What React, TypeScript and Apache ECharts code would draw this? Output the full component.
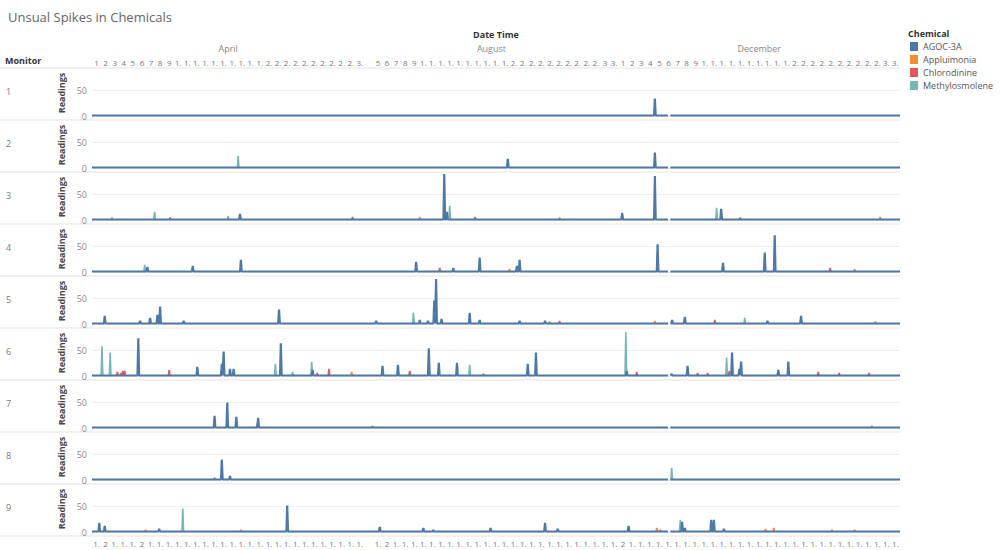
import React, { useEffect, useRef } from 'react';
import * as echarts from 'echarts';

const TITLE = 'Unsual Spikes in Chemicals';
const CHEMICALS = ['AGOC-3A', 'Appluimonia', 'Chlorodinine', 'Methylosmolene'];
const CHEM_COLORS = ['#4e79a7', '#f28e2b', '#e15759', '#76b7b2'];
const MONITORS = ['1', '2', '3', '4', '5', '6', '7', '8', '9'];
const MONTHS = ['April', 'August', 'December'];
const MONTH_KEYS = ['Apr', 'Aug', 'Dec'];
const MONTH_FIRST_DAY = [1, 4, 1];

// header day tick labels (truncated as in the original)
const APRIL_TICKS = ['1', '2', '3', '4', '5', '6', '7', '8', '9', '1.', '1.', '1.', '1.', '1.', '1.', '1.', '1.', '1.', '1.', '2.', '2.', '2.', '2.', '2.', '2.', '2.', '2.', '2.', '2.', '3.'];
const AUGUST_TICKS = ['', '5', '6', '7', '8', '9', '1.', '1.', '1.', '1.', '1.', '1.', '1.', '1.', '1.', '1.', '2.', '2.', '2.', '2.', '2.', '2.', '2.', '2.', '2.', '2.', '3', '3.'];
const DECEMBER_TICKS = ['1', '2', '3', '4', '5', '6', '7', '8', '9', '1.', '1.', '1.', '1.', '1.', '1.', '1.', '1.', '1.', '1.', '2.', '2.', '2.', '2.', '2.', '2.', '2.', '2.', '2.', '2.', '3.', '3.'];
// bottom tick labels
const BOTTOM_TICKS = [
  '1.', '2', '1.', '1.', '1.', '2', '1.', '1.', '1.', '1.', '1.', '1.', '1.', '1.', '1.', '1.', '1.', '1.', '1.', '1.', '1.', '1.', '1.', '1.', '1.', '1.', '1.', '1.', '1.', '1.',
  '', '1.', '2', '1.', '1.', '1.', '1.', '1.', '1.', '1.', '1.', '1.', '1.', '1.', '1.', '1.', '1.', '1.', '1.', '1.', '1.', '1.', '1.', '1.', '1.', '1.', '1.', '1.',
  '2', '1.', '1.', '1.', '1.', '1.', '1.', '1.', '1.', '1.', '1.', '1.', '1.', '1.', '1.', '1.', '1.', '1.', '1.', '1.', '1.', '1.', '1.', '1.', '1.', '1.', '1.', '1.', '1.', '1.', '1.',
];

const BASELINE = 1; // typical background reading
const DATA_GAP: [string, number, number] = ['Dec', 6.45, 6.7];

const AG = 'AGOC-3A';
const AP = 'Appluimonia';
const CH = 'Chlorodinine';
const ME = 'Methylosmolene';
type Spike = [string, string, number, number]; // chemical, month, day (fractional), reading

const MONITOR_1: Spike[] = [[AG, 'Dec', 5.0, 34]];
const MONITOR_2: Spike[] = [[ME, 'Apr', 17.1, 24], [AG, 'Aug', 19.8, 18], [AG, 'Dec', 5.0, 30]];
const MONITOR_3: Spike[] = [
  [AP, 'Apr', 3.2, 5], [ME, 'Apr', 7.9, 16], [CH, 'Apr', 9.6, 5], [ME, 'Apr', 16.0, 8], [AG, 'Apr', 17.3, 12], [CH, 'Apr', 29.7, 6],
  [AP, 'Aug', 10.1, 6], [AG, 'Aug', 12.8, 90], [AG, 'Aug', 13.1, 16], [ME, 'Aug', 13.4, 28], [CH, 'Aug', 16.2, 6], [AP, 'Aug', 25.5, 5],
  [AG, 'Dec', 1.4, 14], [AG, 'Dec', 5.0, 86], [ME, 'Dec', 11.8, 24], [AG, 'Dec', 12.3, 22], [CH, 'Dec', 14.4, 5], [AP, 'Dec', 29.8, 6],
];
const MONITOR_4: Spike[] = [
  [ME, 'Apr', 6.8, 14], [AG, 'Apr', 7.1, 10], [AG, 'Apr', 12.1, 12], [AG, 'Apr', 17.4, 24],
  [AG, 'Aug', 9.7, 20], [CH, 'Aug', 12.3, 8], [AG, 'Aug', 13.8, 8], [AG, 'Aug', 16.7, 28], [AP, 'Aug', 20.0, 6], [AG, 'Aug', 20.8, 12], [AG, 'Aug', 21.1, 24],
  [AG, 'Dec', 5.3, 54], [AG, 'Dec', 12.5, 18], [AG, 'Dec', 17.1, 38], [AG, 'Dec', 18.2, 72], [CH, 'Dec', 24.3, 8], [AP, 'Dec', 27.0, 6],
];
const MONITOR_5: Spike[] = [
  [AG, 'Apr', 2.4, 16], [AG, 'Apr', 6.3, 6], [AG, 'Apr', 7.4, 12], [AG, 'Apr', 8.2, 18], [AG, 'Apr', 8.5, 34], [AG, 'Apr', 11.1, 6], [AG, 'Apr', 21.6, 28],
  [AG, 'Aug', 5.3, 6], [ME, 'Aug', 9.4, 22], [AG, 'Aug', 10.1, 8], [AG, 'Aug', 11.0, 6], [AG, 'Aug', 11.7, 46], [AG, 'Aug', 11.9, 88], [AG, 'Aug', 12.5, 10],
  [AG, 'Aug', 15.6, 22], [AG, 'Aug', 16.7, 8], [AG, 'Aug', 21.1, 6], [AG, 'Aug', 23.9, 6], [AP, 'Aug', 24.4, 5], [CH, 'Aug', 25.5, 6],
  [AP, 'Dec', 5.0, 6], [AG, 'Dec', 6.9, 8], [AG, 'Dec', 8.3, 14], [CH, 'Dec', 11.6, 8], [ME, 'Dec', 14.9, 12], [AG, 'Dec', 17.4, 6], [AG, 'Dec', 21.1, 16], [AP, 'Dec', 29.3, 5],
];
const MONITOR_6: Spike[] = [
  [ME, 'Apr', 2.1, 58], [ME, 'Apr', 3.0, 46], [CH, 'Apr', 3.8, 8], [CH, 'Apr', 4.2, 6], [CH, 'Apr', 4.4, 10], [CH, 'Apr', 4.6, 10], [AG, 'Apr', 6.1, 74],
  [CH, 'Apr', 9.5, 12], [AG, 'Apr', 12.6, 18], [AG, 'Apr', 15.3, 24], [AG, 'Apr', 15.5, 48], [AG, 'Apr', 16.2, 14], [AG, 'Apr', 16.6, 14],
  [ME, 'Apr', 21.2, 24], [AG, 'Apr', 21.8, 64], [ME, 'Apr', 23.1, 8], [ME, 'Apr', 25.2, 28], [AG, 'Apr', 25.3, 12], [CH, 'Apr', 25.8, 6], [CH, 'Apr', 27.1, 14], [AP, 'Apr', 29.6, 8],
  [AG, 'Aug', 6.0, 20], [AG, 'Aug', 7.7, 22], [CH, 'Aug', 9.0, 10], [AG, 'Aug', 11.1, 54], [AG, 'Aug', 12.2, 26], [AG, 'Aug', 14.2, 26], [ME, 'Aug', 15.6, 22],
  [CH, 'Aug', 17.1, 4], [AG, 'Aug', 22.0, 24], [AG, 'Aug', 22.9, 46],
  [ME, 'Dec', 1.8, 86], [AG, 'Dec', 1.9, 10], [CH, 'Dec', 3.0, 8], [AG, 'Dec', 6.85, 4], [AG, 'Dec', 8.6, 20], [CH, 'Dec', 9.7, 6], [CH, 'Dec', 10.8, 6],
  [ME, 'Dec', 12.9, 36], [CH, 'Dec', 13.2, 10], [AG, 'Dec', 13.5, 46], [AG, 'Dec', 14.3, 14], [AG, 'Dec', 14.5, 28], [AG, 'Dec', 18.6, 12], [AG, 'Dec', 19.7, 28],
  [CH, 'Dec', 23.0, 8], [CH, 'Dec', 25.3, 6], [CH, 'Dec', 28.6, 6],
];
const MONITOR_7: Spike[] = [
  [AG, 'Apr', 14.5, 24], [AG, 'Apr', 15.9, 50], [AG, 'Apr', 16.9, 22], [ME, 'Apr', 19.2, 10], [AG, 'Apr', 19.3, 20], [AP, 'Aug', 4.9, 4], [AP, 'Dec', 28.9, 4],
];
const MONITOR_8: Spike[] = [[CH, 'Apr', 14.5, 4], [AG, 'Apr', 15.3, 40], [AG, 'Apr', 16.2, 8], [ME, 'Dec', 6.85, 24]];
const MONITOR_9: Spike[] = [
  [AG, 'Apr', 1.8, 18], [AG, 'Apr', 2.4, 12], [AP, 'Apr', 6.9, 4], [AG, 'Apr', 8.4, 6], [ME, 'Apr', 11.0, 46], [AP, 'Apr', 17.4, 4], [AG, 'Apr', 22.5, 52],
  [AG, 'Aug', 5.7, 10], [AG, 'Aug', 10.5, 8], [AG, 'Aug', 11.6, 4], [AG, 'Aug', 17.9, 8], [AG, 'Aug', 23.9, 18], [AG, 'Aug', 25.3, 6],
  [AG, 'Dec', 2.1, 12], [AP, 'Dec', 5.2, 8], [CH, 'Dec', 5.6, 4], [ME, 'Dec', 7.8, 24], [AG, 'Dec', 8.0, 20], [AG, 'Dec', 8.3, 8], [AG, 'Dec', 11.2, 24],
  [AG, 'Dec', 11.5, 24], [AG, 'Dec', 12.6, 6], [AP, 'Dec', 17.2, 6], [AP, 'Dec', 18.1, 8], [AP, 'Dec', 24.5, 4], [AP, 'Dec', 27.0, 4],
];
const MONITOR_SPIKES = [MONITOR_1, MONITOR_2, MONITOR_3, MONITOR_4, MONITOR_5, MONITOR_6, MONITOR_7, MONITOR_8, MONITOR_9];

const MONTH_TICKS = [APRIL_TICKS, AUGUST_TICKS, DECEMBER_TICKS];
const MONTH_OFFSETS: number[] = [];
let acc = 0;
MONTH_TICKS.forEach((t) => { MONTH_OFFSETS.push(acc); acc += t.length; });
const TOTAL = acc;
const MONTH_CENTERS = MONTH_TICKS.map((t, i) => MONTH_OFFSETS[i] + t.length / 2);
const DAY_TICKS = ([] as string[]).concat(...MONTH_TICKS);

const toX = (m: string, d: number) => {
  const i = MONTH_KEYS.indexOf(m);
  return MONTH_OFFSETS[i] + d - MONTH_FIRST_DAY[i];
};

const HALF = 0.09;

function buildData(spikes: Spike[], chem: string, withBaseline: boolean) {
  const s = spikes.filter((p) => p[0] === chem).map((p) => [toX(p[1], p[2]), p[3]] as [number, number]).sort((a, b) => a[0] - b[0]);
  const pts: [number, number | string][] = [];
  for (let i = 0; i < s.length; i++) {
    const [x, v] = s[i];
    const prevOverlap = i > 0 && s[i - 1][0] + HALF > x - HALF;
    const nextOverlap = i < s.length - 1 && s[i + 1][0] - HALF < x + HALF;
    if (!prevOverlap) pts.push([x - HALF, BASELINE]);
    pts.push([x, v]);
    if (!nextOverlap) {
      pts.push([x + HALF, BASELINE]);
      if (!withBaseline) pts.push([x + HALF + 0.01, '-']);
    }
  }
  if (withBaseline) {
    const g0 = toX(DATA_GAP[0], DATA_GAP[1]);
    const g1 = toX(DATA_GAP[0], DATA_GAP[2]);
    pts.push([0, BASELINE], [TOTAL, BASELINE], [g0, BASELINE], [(g0 + g1) / 2, '-'], [g1, BASELINE]);
    pts.sort((a, b) => a[0] - b[0]);
  }
  return pts;
}

const LEFT = 92;
const WIDTH = 808;
const TOP0 = 70;
const STEP = 52;
const PANEL_H = 46;
const FONT = "'Open Sans', sans-serif";

export default function App() {
  const ref = useRef<HTMLDivElement>(null);
  useEffect(() => {
    if (!ref.current) return;
    const chart = echarts.init(ref.current, undefined, { renderer: 'svg' });
    const grid: any[] = [];
    const xAxis: any[] = [];
    const yAxis: any[] = [];
    const series: any[] = [];
    MONITORS.forEach((mon, i) => {
      grid.push({ left: LEFT, width: WIDTH, top: TOP0 + i * STEP, height: PANEL_H });
      xAxis.push({ type: 'value', gridIndex: i, min: 0, max: TOTAL, show: false });
      yAxis.push({
        type: 'value', gridIndex: i, min: 0, max: 90, interval: 50,
        name: 'Readings', nameLocation: 'middle', nameGap: 21, nameRotate: 90,
        nameTextStyle: { fontSize: 9, fontWeight: 'bold', color: '#444', fontFamily: FONT },
        axisLine: { show: false }, axisTick: { show: false },
        axisLabel: { fontSize: 9, color: '#888', margin: 5, formatter: (v: number) => (v === 0 || v === 50 ? String(v) : '') },
        splitLine: { show: true, showMaxLine: false, lineStyle: { color: '#eeeeee', width: 1 } },
      });
      [3, 2, 1, 0].forEach((ci) => {
        const isMain = ci === 0;
        series.push({
          name: CHEMICALS[ci], type: 'line', xAxisIndex: i, yAxisIndex: i,
          data: buildData(MONITOR_SPIKES[i], CHEMICALS[ci], isMain),
          showSymbol: false, symbol: 'none', clip: false, silent: true, connectNulls: false,
          z: isMain ? 4 : 3,
          lineStyle: { width: isMain ? 2.2 : 1.6, color: CHEM_COLORS[ci] }, itemStyle: { color: CHEM_COLORS[ci] },
        });
      });
    });
    // header day ticks
    xAxis.push({
      type: 'category', gridIndex: 0, position: 'top', data: DAY_TICKS, boundaryGap: true,
      axisLine: { show: false }, axisTick: { show: false },
      axisLabel: { interval: 0, fontSize: 8, color: '#777', margin: 4, fontFamily: FONT },
    });
    // month header
    xAxis.push({
      type: 'value', gridIndex: 0, position: 'top', offset: 14, min: 0, max: TOTAL,
      axisLine: { show: false }, axisTick: { show: false }, splitLine: { show: false },
      name: 'Date Time', nameLocation: 'middle', nameGap: 17,
      nameTextStyle: { fontSize: 9, fontWeight: 'bold', color: '#333', fontFamily: FONT },
      axisLabel: {
        customValues: MONTH_CENTERS, fontSize: 9, color: '#888', margin: 3, fontFamily: FONT,
        formatter: (v: number) => { const k = MONTH_CENTERS.indexOf(v); return k >= 0 ? MONTHS[k] : ''; },
      },
    });
    // bottom ticks
    xAxis.push({
      type: 'category', gridIndex: MONITORS.length - 1, position: 'bottom', data: BOTTOM_TICKS, boundaryGap: true,
      axisLine: { show: false }, axisTick: { show: false },
      axisLabel: { interval: 0, fontSize: 8, color: '#777', margin: 7, fontFamily: FONT },
    });

    const graphic: any[] = [];
    for (let k = 0; k <= MONITORS.length; k++) {
      graphic.push({ type: 'line', silent: true, shape: { x1: 0, y1: 68 + k * STEP, x2: LEFT + WIDTH, y2: 68 + k * STEP }, style: { stroke: '#e3e3e3', lineWidth: 1 } });
    }
    MONITORS.forEach((mon, i) => {
      graphic.push({ type: 'text', left: 6, top: TOP0 + i * STEP + 17, style: { text: mon, fontSize: 9, fill: '#777', fontFamily: FONT } });
    });
    graphic.push({ type: 'text', left: 5, top: 56, style: { text: 'Monitor', fontSize: 9, fontWeight: 'bold', fill: '#333', fontFamily: FONT } });
    graphic.push({ type: 'text', left: 908, top: 29, style: { text: 'Chemical', fontSize: 9, fontWeight: 'bold', fill: '#333', fontFamily: FONT } });

    chart.setOption({
      animation: false,
      backgroundColor: '#ffffff',
      textStyle: { fontFamily: FONT },
      title: { text: TITLE, left: 3, top: 5, textStyle: { fontSize: 13, fontWeight: 'normal', color: '#666', fontFamily: FONT } },
      legend: {
        data: CHEMICALS, orient: 'vertical', left: 910, top: 42, icon: 'rect', itemWidth: 8, itemHeight: 9, itemGap: 4, padding: 0,
        selectedMode: false, textStyle: { fontSize: 9, color: '#555', fontFamily: FONT },
      },
      grid, xAxis, yAxis, series, graphic,
    });
    return () => chart.dispose();
  }, []);
  return <div ref={ref} style={{ position: 'fixed', left: 0, top: 0, width: 1000, height: 550, background: '#fff' }} />;
}
